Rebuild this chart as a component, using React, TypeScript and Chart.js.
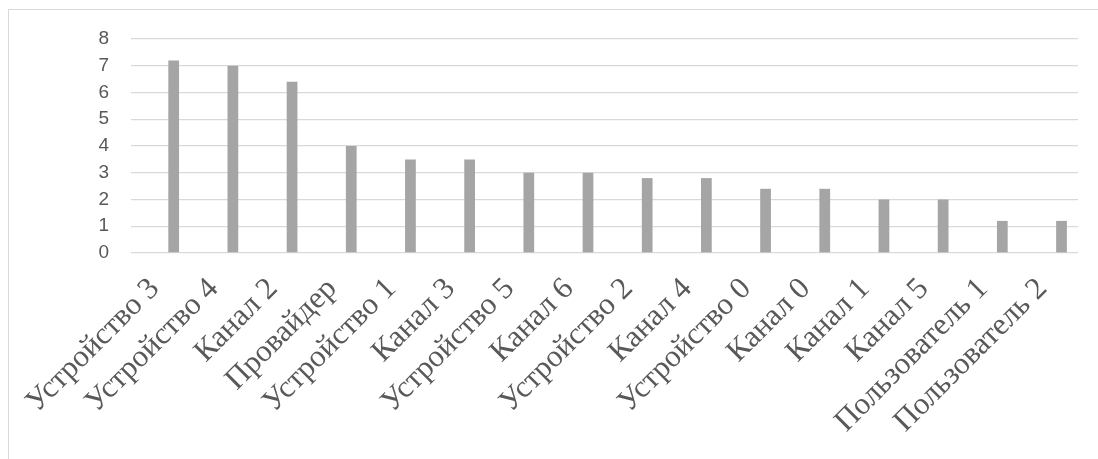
import React, { useEffect, useRef } from "react";
import { Chart, registerables } from "chart.js";

Chart.register(...registerables);

const categories: string[] = [
  "Устройство 3",
  "Устройство 4",
  "Канал 2",
  "Провайдер",
  "Устройство 1",
  "Канал 3",
  "Устройство 5",
  "Канал 6",
  "Устройство 2",
  "Канал 4",
  "Устройство 0",
  "Канал 0",
  "Канал 1",
  "Канал 5",
  "Пользователь 1",
  "Пользователь 2",
];

const values: number[] = [7.2, 7.0, 6.4, 4.0, 3.5, 3.5, 3.0, 3.0, 2.8, 2.8, 2.4, 2.4, 2.0, 2.0, 1.2, 1.2];

// The original chart holds an empty first series, which pushes the visible bars to the right of each category.
const emptySeries: (number | null)[] = [null, null, null, null, null, null, null, null, null, null, null, null, null, null, null, null];

const yMin = 0;
const yMax = 8;
const yStep = 1;

export default function App() {
  const canvasRef = useRef<HTMLCanvasElement | null>(null);

  useEffect(() => {
    if (!canvasRef.current) return;
    const chart = new Chart(canvasRef.current, {
      type: "bar",
      data: {
        labels: categories,
        datasets: [
          {
            label: "",
            data: emptySeries,
            backgroundColor: "#a5a5a5",
            categoryPercentage: 0.885,
            barPercentage: 0.41,
          },
          {
            label: "Значение",
            data: values,
            backgroundColor: "#a5a5a5",
            categoryPercentage: 0.885,
            barPercentage: 0.41,
          },
        ],
      },
      options: {
        animation: false,
        responsive: false,
        maintainAspectRatio: false,
        layout: { padding: { left: 0, top: 39, right: 20, bottom: 0 } },
        plugins: {
          legend: { display: false },
          tooltip: { enabled: false },
          title: { display: false },
        },
        scales: {
          x: {
            grid: { display: false, drawTicks: false },
            border: { display: false },
            ticks: {
              autoSkip: false,
              maxRotation: 45,
              minRotation: 45,
              padding: 18,
              labelOffset: -6,
              color: "#595959",
              font: { family: "'Liberation Serif', 'Times New Roman', serif", size: 31 },
            },
            afterFit: (scale: any) => {
              scale.height = 206;
            },
          },
          y: {
            min: yMin,
            max: yMax,
            grid: { color: "#d9d9d9", lineWidth: 1.3, drawTicks: false },
            border: { display: false },
            ticks: {
              stepSize: yStep,
              padding: 22,
              color: "#595959",
              font: { family: "'Liberation Sans', Arial, sans-serif", size: 19 },
            },
            afterFit: (scale: any) => {
              scale.width = 131;
            },
          },
        },
      },
    });
    return () => chart.destroy();
  }, []);

  return (
    <div style={{ position: "absolute", left: 0, top: 0, width: 1098, height: 459, overflow: "hidden", background: "#fff" }}>
      <div
        style={{
          position: "absolute",
          left: 8,
          top: 9,
          width: 1200,
          height: 600,
          border: "1px solid #d9d9d9",
          boxSizing: "border-box",
        }}
      />
      <canvas ref={canvasRef} width={1098} height={459} style={{ position: "absolute", left: 0, top: 0 }} />
    </div>
  );
}
